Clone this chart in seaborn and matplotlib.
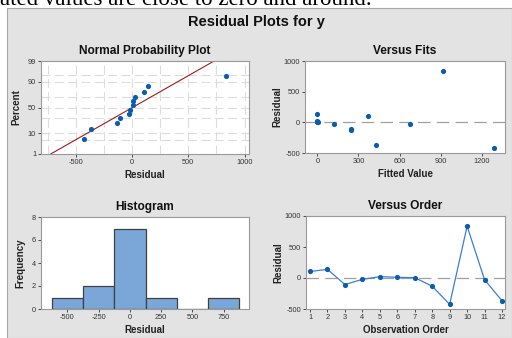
import numpy as np
import pandas as pd
import matplotlib
matplotlib.use("Agg")
import matplotlib.pyplot as plt
from matplotlib.patches import Rectangle
import seaborn as sns
from statistics import NormalDist

# Residuals in observation order, with their fitted values
order = [1, 2, 3, 4, 5, 6, 7, 8, 9, 10, 11, 12]
residuals = [105, 139, -105, -22, 22, 11, 5, -133, -425, 835, -28, -367]
fitted = [370, 0, 245, 125, 0, 5, 0, 245, 1290, 920, 675, 430]

pct_ticks = [1, 10, 50, 90, 99]
pct_grid = [5, 10, 30, 50, 70, 90, 95]
hist_edges = [-625, -375, -125, 125, 375, 625, 875]

W, H = 512, 338
sns.set_theme(style="white")
plt.rcParams["font.family"] = ["Liberation Sans", "DejaVu Sans"]
plt.rcParams["axes.unicode_minus"] = False

fig = plt.figure(figsize=(W / 100, H / 100), dpi=100)

def fx(px):
    return px / W

def fy(py):
    return 1 - py / H

# grey panel behind the plots
fig.patches.append(Rectangle((fx(7), 0), 1 - fx(7), fy(8), transform=fig.transFigure,
                             facecolor="#e3e3e3", edgecolor="#a8a8a8", lw=0.8, zorder=-10))
fig.text(0, fy(5), "ated values are close to zero and around.", family="Liberation Serif",
         fontsize=16.5, va="baseline", ha="left", color="black")

def box(l, t, r, b):
    return [fx(l), fy(b), fx(r) - fx(l), (b - t) / H]

blue = "#0b5cad"
ax1 = fig.add_axes(box(41, 61, 249, 154))
ax2 = fig.add_axes(box(305, 61, 505, 153))
ax3 = fig.add_axes(box(41, 217, 249, 309))
ax4 = fig.add_axes(box(306, 216, 505, 309))

for ax in (ax1, ax2, ax3, ax4):
    ax.set_facecolor("white")
    for s in ax.spines.values():
        s.set_color("#9a9a9a")
        s.set_linewidth(0.8)
    ax.tick_params(labelsize=5.3, colors="#333333", length=2, width=0.6, pad=1.5,
                   bottom=True, left=True)

nd = NormalDist()
lab_kw = dict(fontsize=7, fontweight="bold", color="#222222")
tit_kw = dict(fontsize=8.6, fontweight="bold", color="#111111")
msize = 14

# Normal probability plot
srt = np.sort(residuals)
n = len(srt)
probs = [(i + 1 - 0.3) / (n + 0.4) for i in range(n)]
zq = [nd.inv_cdf(p) for p in probs]
mu, sd = np.mean(residuals), np.std(residuals, ddof=1)
zlo, zhi = nd.inv_cdf(0.01), nd.inv_cdf(0.99)
for v in [-750, -500, -250, 0, 250, 500, 750, 1000]:
    ax1.axvline(v, color="#dcdcdc", lw=0.8, dashes=(8, 4), zorder=0)
for p in pct_grid:
    ax1.axhline(nd.inv_cdf(p / 100), color="#dcdcdc", lw=0.8, dashes=(8, 4), zorder=0)
fit_line = pd.DataFrame({"x": [mu + zlo * sd, mu + zhi * sd], "z": [zlo, zhi]})
sns.lineplot(data=fit_line, x="x", y="z", ax=ax1, color="#a3191c", lw=0.8)
sns.scatterplot(x=srt, y=zq, ax=ax1, color=blue, s=msize, edgecolor=blue, linewidth=0, zorder=3)
ax1.set_xlim(-810, 1040)
ax1.set_ylim(zlo, zhi)
ax1.set_xticks([-500, 0, 500, 1000])
ax1.set_yticks([nd.inv_cdf(p / 100) for p in pct_ticks])
ax1.set_yticklabels([str(p) for p in pct_ticks])
ax1.set_xlabel("Residual", labelpad=3, **lab_kw)
ax1.set_ylabel("Percent", labelpad=5, **lab_kw)
ax1.set_title("Normal Probability Plot", pad=5, **tit_kw)

# Versus fits
ax2.axhline(0, color="#a0a0a0", lw=0.9, dashes=(10, 5), zorder=0)
sns.scatterplot(x=fitted, y=residuals, ax=ax2, color=blue, s=msize, edgecolor=blue, linewidth=0, zorder=3)
ax2.set_xlim(-90, 1370)
ax2.set_ylim(-500, 1000)
ax2.set_xticks([0, 300, 600, 900, 1200])
ax2.set_yticks([-500, 0, 500, 1000])
ax2.set_xlabel("Fitted Value", labelpad=3, **lab_kw)
ax2.set_ylabel("Residual", labelpad=1, **lab_kw)
ax2.set_title("Versus Fits", pad=5, **tit_kw)

# Histogram
sns.histplot(x=residuals, bins=hist_edges, ax=ax3, color="#7ba6d8", alpha=1,
             edgecolor="#404040", linewidth=0.9)
ax3.set_xlim(-710, 952)
ax3.set_ylim(0, 8)
ax3.set_xticks([-500, -250, 0, 250, 500, 750])
ax3.set_yticks([0, 2, 4, 6, 8])
ax3.set_xlabel("Residual", labelpad=3, **lab_kw)
ax3.set_ylabel("Frequency", labelpad=5, **lab_kw)
ax3.set_title("Histogram", pad=5, **tit_kw)

# Versus order
ax4.axhline(0, color="#a0a0a0", lw=0.9, dashes=(10, 5), zorder=0)
sns.lineplot(x=order, y=residuals, ax=ax4, color="#3b7fd4", lw=0.9, zorder=2)
sns.scatterplot(x=order, y=residuals, ax=ax4, color=blue, s=msize, edgecolor=blue, linewidth=0, zorder=3)
ax4.set_xlim(0.77, 12.17)
ax4.set_ylim(-500, 1000)
ax4.set_xticks(order)
ax4.set_yticks([-500, 0, 500, 1000])
ax4.set_xlabel("Observation Order", labelpad=3, **lab_kw)
ax4.set_ylabel("Residual", labelpad=1, **lab_kw)
ax4.set_title("Versus Order", pad=5, **tit_kw)

fig.text(fx(256), fy(22), "Residual Plots for y", ha="center", va="center",
         fontsize=10.5, fontweight="bold", color="#111111")

fig.savefig("out.png", dpi=100)
